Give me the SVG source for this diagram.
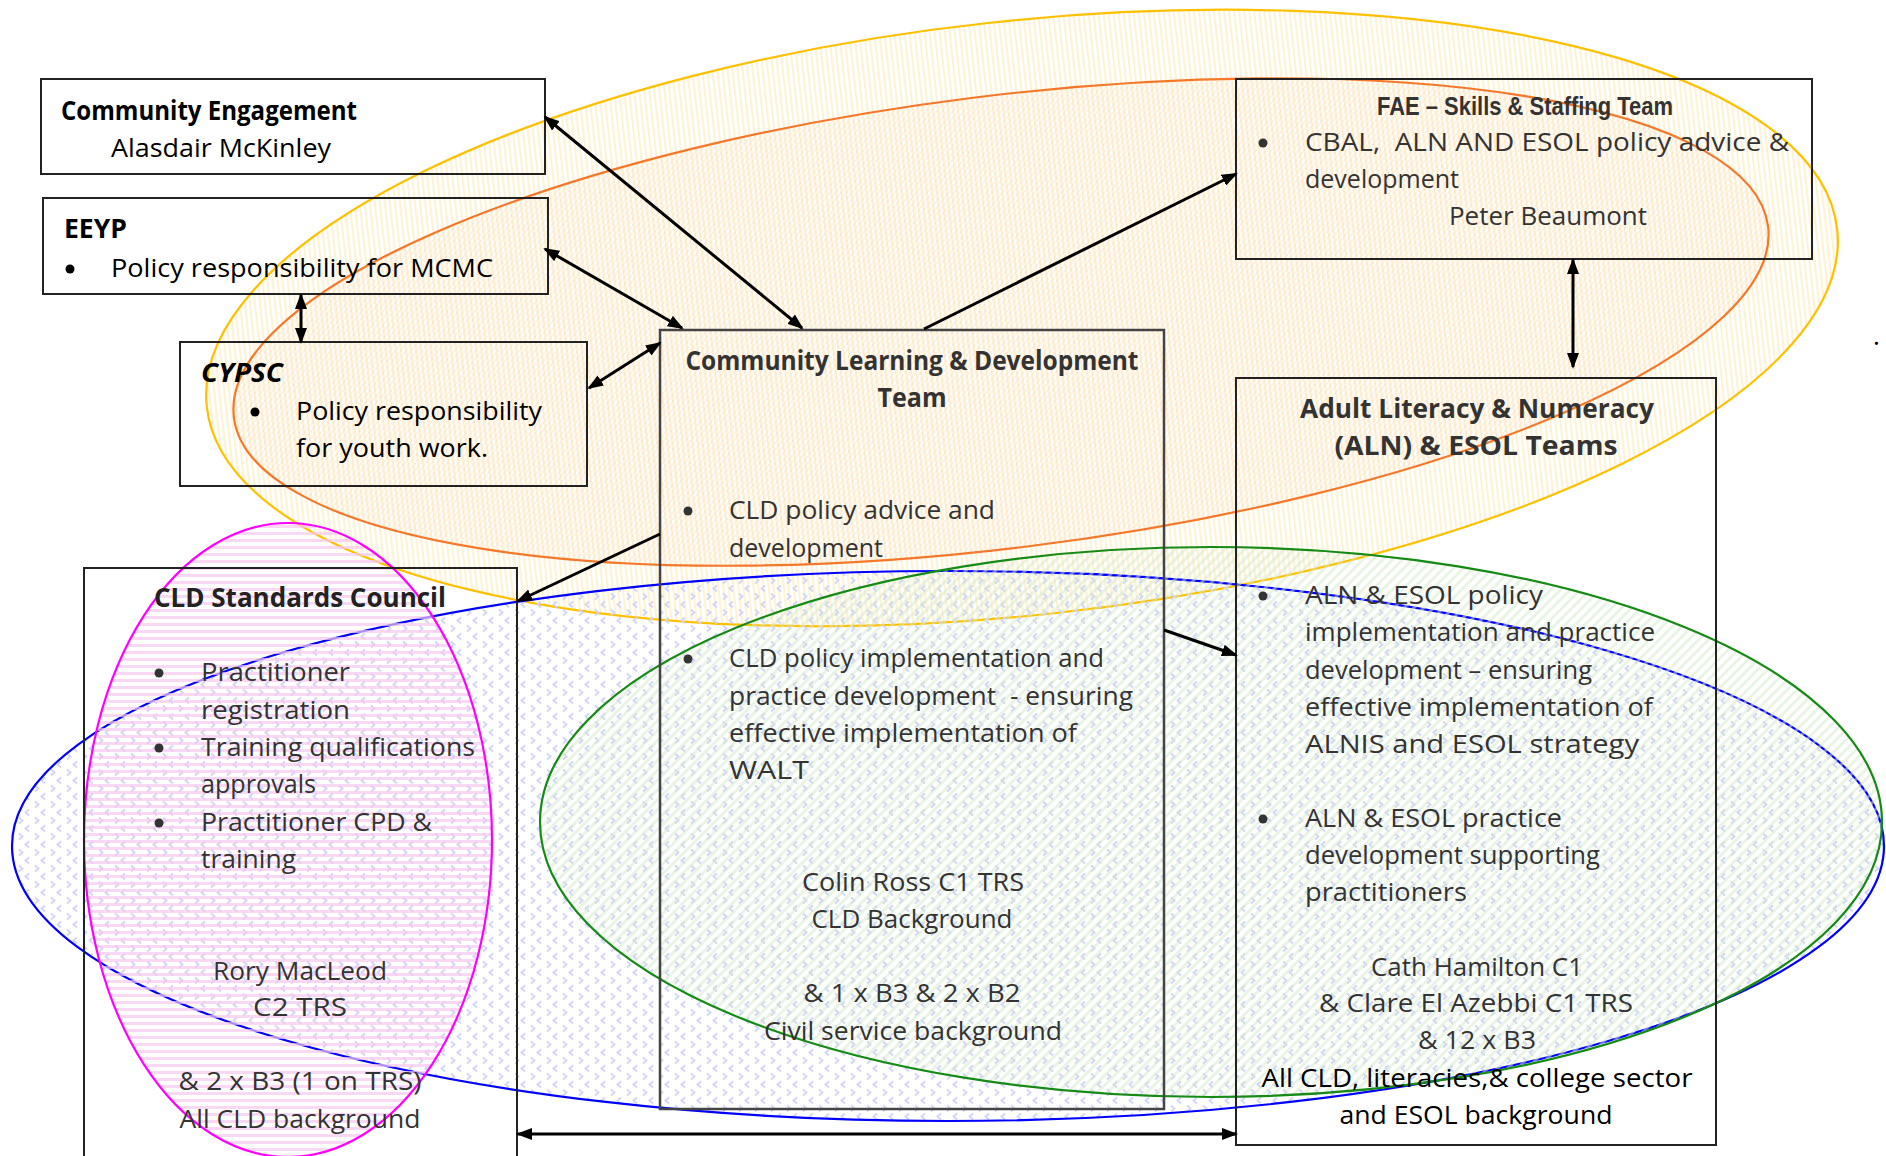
<svg xmlns="http://www.w3.org/2000/svg" width="1886" height="1156" viewBox="0 0 1886 1156">
<defs>
<style>
.t{font-family:"Open Sans","DejaVu Sans",sans-serif;font-size:26px;fill:#333}
.k{fill:#000}
.b{font-weight:bold}
.c{text-anchor:middle}
.box{fill:none;stroke:#222;stroke-width:2}
.box2{fill:none;stroke:#444;stroke-width:2.5}
.dot{fill:#333}
.ell{stroke-width:2.2}
.con{stroke:#000;stroke-width:3;fill:none}
</style>
<pattern id="pY" width="5" height="10" patternUnits="userSpaceOnUse"><rect width="2" height="10" fill="#FFE39A" fill-opacity="0.45"/></pattern>
<pattern id="pO" width="6" height="6" patternUnits="userSpaceOnUse"><path d="M0,6 L6,0 M-1,1 L1,-1 M5,7 L7,5" stroke="#F8C9A0" stroke-width="1.3" stroke-opacity="0.28"/><path d="M0,0 L6,6" stroke="#F8C9A0" stroke-width="1" stroke-opacity="0.2"/></pattern>
<pattern id="pB" width="16" height="16" patternUnits="userSpaceOnUse"><path d="M3,1.5 L6.5,4.5 L3,7.5" fill="none" stroke="#D0D4F7" stroke-width="1.8"/><path d="M13,9.5 L9.5,12.5 L13,15.5" fill="none" stroke="#D0D4F7" stroke-width="1.8"/></pattern>
<pattern id="pG" width="7" height="7" patternUnits="userSpaceOnUse" patternTransform="rotate(45)"><rect width="3" height="7" fill="#D3EACA" fill-opacity="0.5"/></pattern>
<pattern id="pM" width="10" height="7" patternUnits="userSpaceOnUse"><rect width="10" height="3" fill="#F6C8EE" fill-opacity="0.7"/></pattern>
<marker id="ah" viewBox="0 0 16 12" refX="14" refY="6" markerWidth="16" markerHeight="12" markerUnits="userSpaceOnUse" orient="auto-start-reverse"><path d="M0,0 L16,6 L0,12 z" fill="#000"/></marker>
</defs>
<rect width="1886" height="1156" fill="#fff"/>

<g id="regions">
<ellipse id="region-yellow" class="ell" cx="1022" cy="318" rx="820" ry="297" transform="rotate(-6.2 1022 318)" fill="url(#pY)" stroke="#FFC000"/>
<ellipse id="region-orange" class="ell" cx="1001" cy="322" rx="773" ry="226" transform="rotate(-7.1 1001 322)" fill="url(#pO)" stroke="#F5782A"/>
<ellipse id="region-blue" class="ell" cx="948" cy="846" rx="936" ry="275" fill="url(#pB)" stroke="#0000FF"/>
<ellipse id="region-green" class="ell" cx="1211" cy="822" rx="671" ry="275" fill="url(#pG)" stroke="#158A15"/>
<ellipse id="region-magenta" class="ell" cx="288" cy="840" rx="204" ry="317" fill="url(#pM)" stroke="#FF00FF"/>
</g>

<g id="community-engagement">
<rect class="box" x="41" y="79" width="504" height="95"/>
<text class="t k b" x="61" y="120" textLength="296" lengthAdjust="spacingAndGlyphs">Community Engagement</text>
<text class="t k" x="111" y="157" textLength="220" lengthAdjust="spacingAndGlyphs">Alasdair McKinley</text>
</g>

<g id="eeyp">
<rect class="box" x="43" y="198" width="505" height="96"/>
<text class="t k b" x="64" y="238" textLength="63" lengthAdjust="spacingAndGlyphs">EEYP</text>
<circle class="dot" style="fill:#000" cx="70" cy="269" r="4.5"/>
<text class="t k" x="111" y="277" textLength="382" lengthAdjust="spacingAndGlyphs">Policy responsibility for MCMC</text>
</g>

<g id="cypsc">
<rect class="box" x="180" y="342" width="407" height="144"/>
<text class="t k b" x="201" y="382" font-style="italic" textLength="82" lengthAdjust="spacingAndGlyphs">CYPSC</text>
<circle class="dot" style="fill:#000" cx="255" cy="412" r="4.5"/>
<text class="t k" x="296" y="420" textLength="246" lengthAdjust="spacingAndGlyphs">Policy responsibility</text>
<text class="t k" x="296" y="457" textLength="192" lengthAdjust="spacingAndGlyphs">for youth work.</text>
</g>

<g id="cld-team">
<rect class="box2" x="660" y="330" width="504" height="779"/>
<text class="t b c" x="912" y="370" textLength="453" lengthAdjust="spacingAndGlyphs">Community Learning &amp; Development</text>
<text class="t b c" x="912" y="407" textLength="69" lengthAdjust="spacingAndGlyphs">Team</text>
<circle class="dot" cx="688" cy="511" r="4.5"/>
<text class="t" x="729" y="519" textLength="266" lengthAdjust="spacingAndGlyphs">CLD policy advice and</text>
<text class="t" x="729" y="557" textLength="154" lengthAdjust="spacingAndGlyphs">development</text>
<circle class="dot" cx="688" cy="659" r="4.5"/>
<text class="t" x="729" y="667" textLength="375" lengthAdjust="spacingAndGlyphs">CLD policy implementation and</text>
<text class="t" x="729" y="705" style="white-space:pre" textLength="404" lengthAdjust="spacingAndGlyphs">practice development  - ensuring</text>
<text class="t" x="729" y="742" textLength="348" lengthAdjust="spacingAndGlyphs">effective implementation of</text>
<text class="t" x="729" y="779" textLength="80" lengthAdjust="spacingAndGlyphs">WALT</text>
<text class="t c" x="913" y="891" textLength="222" lengthAdjust="spacingAndGlyphs">Colin Ross C1 TRS</text>
<text class="t c" x="912" y="928" textLength="201" lengthAdjust="spacingAndGlyphs">CLD Background</text>
<text class="t c" x="912" y="1002" textLength="217" lengthAdjust="spacingAndGlyphs">&amp; 1 x B3 &amp; 2 x B2</text>
<text class="t c" x="913" y="1040" textLength="298" lengthAdjust="spacingAndGlyphs">Civil service background</text>
</g>

<g id="fae">
<rect class="box" x="1236" y="79" width="576" height="180"/>
<text class="t b c" x="1525" y="115" style="font-family:'Liberation Sans',Arial,sans-serif;font-size:25px" textLength="296" lengthAdjust="spacingAndGlyphs">FAE – Skills &amp; Staffing Team</text>
<circle class="dot" cx="1263" cy="143" r="4.5"/>
<text class="t" x="1305" y="151" style="white-space:pre" textLength="484" lengthAdjust="spacingAndGlyphs">CBAL,  ALN AND ESOL policy advice &amp;</text>
<text class="t" x="1305" y="188" textLength="154" lengthAdjust="spacingAndGlyphs">development</text>
<text class="t c" x="1548" y="225" textLength="198" lengthAdjust="spacingAndGlyphs">Peter Beaumont</text>
</g>

<g id="aln-esol">
<rect class="box" x="1236" y="378" width="480" height="767"/>
<text class="t b c" x="1477" y="418" textLength="354" lengthAdjust="spacingAndGlyphs">Adult Literacy &amp; Numeracy</text>
<text class="t b c" x="1476" y="455" textLength="283" lengthAdjust="spacingAndGlyphs">(ALN) &amp; ESOL Teams</text>
<circle class="dot" cx="1263" cy="596" r="4.5"/>
<text class="t" x="1305" y="604" textLength="238" lengthAdjust="spacingAndGlyphs">ALN &amp; ESOL policy</text>
<text class="t" x="1305" y="641" textLength="350" lengthAdjust="spacingAndGlyphs">implementation and practice</text>
<text class="t" x="1305" y="679" textLength="287" lengthAdjust="spacingAndGlyphs">development – ensuring</text>
<text class="t" x="1305" y="716" textLength="348" lengthAdjust="spacingAndGlyphs">effective implementation of</text>
<text class="t" x="1305" y="753" textLength="334" lengthAdjust="spacingAndGlyphs">ALNIS and ESOL strategy</text>
<circle class="dot" cx="1263" cy="819" r="4.5"/>
<text class="t" x="1305" y="827" textLength="257" lengthAdjust="spacingAndGlyphs">ALN &amp; ESOL practice</text>
<text class="t" x="1305" y="864" textLength="295" lengthAdjust="spacingAndGlyphs">development supporting</text>
<text class="t" x="1305" y="901" textLength="162" lengthAdjust="spacingAndGlyphs">practitioners</text>
<text class="t c" x="1477" y="976" textLength="212" lengthAdjust="spacingAndGlyphs">Cath Hamilton C1</text>
<text class="t c" x="1476" y="1012" textLength="314" lengthAdjust="spacingAndGlyphs">&amp; Clare El Azebbi C1 TRS</text>
<text class="t c" x="1477" y="1049" textLength="118" lengthAdjust="spacingAndGlyphs">&amp; 12 x B3</text>
<text class="t k c" x="1477" y="1087" textLength="431" lengthAdjust="spacingAndGlyphs">All CLD, literacies,&amp; college sector</text>
<text class="t k c" x="1476" y="1124" textLength="273" lengthAdjust="spacingAndGlyphs">and ESOL background</text>
</g>

<g id="cld-standards-council">
<path class="box" d="M84,1160 V568 H517 V1160"/>
<text class="t b c" x="300" y="607" style="fill:#222" textLength="292" lengthAdjust="spacingAndGlyphs">CLD Standards Council</text>
<circle class="dot" cx="159" cy="673" r="4.5"/>
<text class="t" x="201" y="681" textLength="149" lengthAdjust="spacingAndGlyphs">Practitioner</text>
<text class="t" x="201" y="719" textLength="149" lengthAdjust="spacingAndGlyphs">registration</text>
<circle class="dot" cx="159" cy="748" r="4.5"/>
<text class="t" x="201" y="756" textLength="274" lengthAdjust="spacingAndGlyphs">Training qualifications</text>
<text class="t" x="201" y="793" textLength="115" lengthAdjust="spacingAndGlyphs">approvals</text>
<circle class="dot" cx="159" cy="823" r="4.5"/>
<text class="t" x="201" y="831" textLength="231" lengthAdjust="spacingAndGlyphs">Practitioner CPD &amp;</text>
<text class="t" x="201" y="868" textLength="95" lengthAdjust="spacingAndGlyphs">training</text>
<text class="t c" x="300" y="980" textLength="174" lengthAdjust="spacingAndGlyphs">Rory MacLeod</text>
<text class="t c" x="300" y="1016" textLength="94" lengthAdjust="spacingAndGlyphs">C2 TRS</text>
<text class="t c" x="300" y="1090" textLength="243" lengthAdjust="spacingAndGlyphs">&amp; 2 x B3 (1 on TRS)</text>
<text class="t c" x="300" y="1128" textLength="241" lengthAdjust="spacingAndGlyphs">All CLD background</text>
</g>

<g id="connectors">
<line class="con" x1="545" y1="117" x2="802" y2="328" marker-start="url(#ah)" marker-end="url(#ah)"/>
<line class="con" x1="545" y1="249" x2="682" y2="328" marker-start="url(#ah)" marker-end="url(#ah)"/>
<line class="con" x1="301" y1="295" x2="301" y2="342" marker-start="url(#ah)" marker-end="url(#ah)"/>
<line class="con" x1="589" y1="388" x2="660" y2="343" marker-start="url(#ah)" marker-end="url(#ah)"/>
<line class="con" x1="924" y1="329" x2="1236" y2="174" marker-end="url(#ah)"/>
<line class="con" x1="1573" y1="260" x2="1573" y2="367" marker-start="url(#ah)" marker-end="url(#ah)"/>
<line class="con" x1="660" y1="534" x2="518" y2="601" marker-end="url(#ah)"/>
<line class="con" x1="1164" y1="630" x2="1236" y2="655" marker-end="url(#ah)"/>
<line class="con" x1="518" y1="1134" x2="1236" y2="1134" marker-start="url(#ah)" marker-end="url(#ah)"/>
</g>
<text class="t k" x="1873" y="345" font-size="20">.</text>
</svg>
